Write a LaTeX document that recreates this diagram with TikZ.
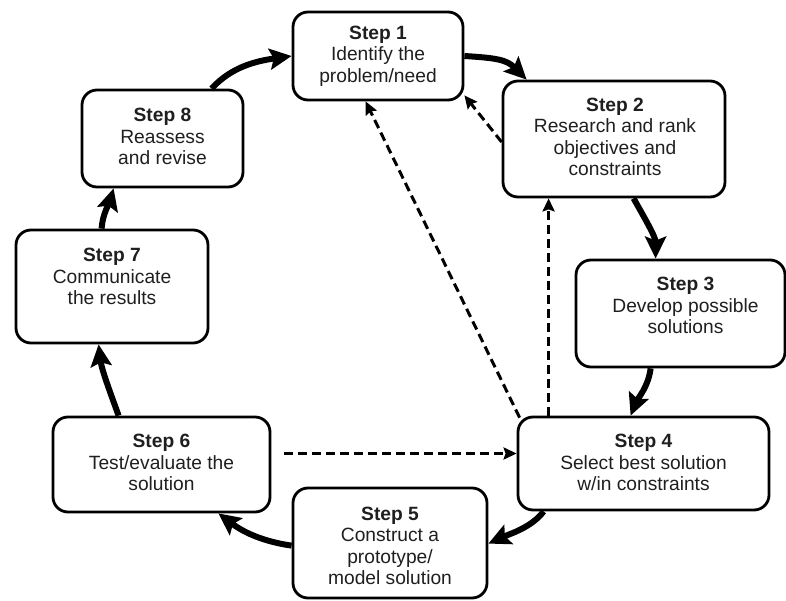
\documentclass[tikz,border=0pt]{standalone}
\usepackage{fontspec}
\setmainfont{Liberation Sans}
\usetikzlibrary{arrows.meta,calc}
\begin{document}
\begin{tikzpicture}[x=1pt,y=-1pt,
  stepbox/.style={draw=black, line width=2.8pt, rounded corners=15pt, fill=white, inner sep=0pt},
  steptext/.style={align=center, inner sep=0pt, font=\fontsize{19.2}{21.5}\selectfont, text=black!88},
  flow/.style={line width=6pt, -{Stealth[length=22pt,width=21pt,inset=4pt]}},
  back/.style={line width=3pt, dash pattern=on 9pt off 5pt, -{Stealth[length=13pt,width=12pt,inset=2pt]}}]
\useasboundingbox[fill=white] (0,0) rectangle (786,601);

% boxes
\node[stepbox, minimum width=170pt, minimum height=88pt]  (b1) at (378,56) {};
\node[stepbox, minimum width=222pt, minimum height=116pt] (b2) at (614,139) {};
\node[stepbox, minimum width=209pt, minimum height=107pt] (b3) at (680.5,313.5) {};
\node[stepbox, minimum width=251pt, minimum height=93pt]  (b4) at (643.5,463.5) {};
\node[stepbox, minimum width=194pt, minimum height=110pt] (b5) at (390,543) {};
\node[stepbox, minimum width=217pt, minimum height=95pt]  (b6) at (161.5,464.5) {};
\node[stepbox, minimum width=192pt, minimum height=113pt] (b7) at (112,286.5) {};
\node[stepbox, minimum width=161pt, minimum height=97pt]  (b8) at (162.5,138.5) {};

% texts
\node[steptext] (t1) at (b1.center) {\textbf{Step 1}\\Identify the\\problem/need};
\node[steptext] (t2) at ($(b2.center)+(1,-2)$) {\textbf{Step 2}\\Research and rank\\objectives and\\constraints};
\node[steptext] (t3) at ($(b3.center)+(5,-8)$) {\textbf{Step 3}\\Develop possible\\solutions};
\node[steptext] (t4) at ($(b4.center)+(0,-1)$) {\textbf{Step 4}\\Select best solution\\w/in constraints};
\node[steptext] (t5) at ($(b5.center)+(0,3)$) {\textbf{Step 5}\\Construct a\\prototype/\\model solution};
\node[steptext] (t6) at ($(b6.center)+(0,-2)$) {\textbf{Step 6}\\Test/evaluate the\\solution};
\node[steptext] (t7) at ($(b7.center)+(0,-10)$) {\textbf{Step 7}\\Communicate\\the results};
\node[steptext] (t8) at ($(b8.center)+(0,-2)$) {\textbf{Step 8}\\Reassess\\and revise};

% main cycle
\draw[flow] (b1.east) .. controls +(32,2) and +(-20,-20) .. ($(b2.north west)+(25,0)$);
\draw[flow] ($(b2.south west)+(132,0)$) .. controls +(10,18) and +(0,-22) .. ($(b3.north west)+(81,0)$);
\draw[flow] ($(b3.south west)+(76,0)$) .. controls +(-2,18) and +(6,-15) .. ($(b4.north west)+(114,0)$);
\draw[flow] ($(b4.south west)+(27,0)$) .. controls +(-12,16) and +(22,-10) .. ($(b5.north east)+(0,57)$);
\draw[flow] ($(b5.north west)+(0,59)$) .. controls +(-35,-5) and +(20,15) .. ($(b6.south east)+(-53,0)$);
\draw[flow] ($(b6.north west)+(67,0)$) .. controls +(-8,-22) and +(3,25) .. ($(b7.south west)+(84,0)$);
\draw[flow] ($(b7.north west)+(87,0)$) .. controls +(1,-15) and +(-4,14) .. ($(b8.south west)+(33,0)$);
\draw[flow] ($(b8.north west)+(131,0)$) .. controls +(20,-22) and +(-35,5) .. (b1.west);

% feedback
\draw[back] ($(b4.north west)+(3,2)$) -- ($(b1.south west)+(74,0)$);
\draw[back] ($(b4.north west)+(32,0)$) -- ($(b2.south west)+(47,0)$);
\draw[back] ($(b2.west)+(0,3)$) -- ($(b1.south east)+(0,-6)$);
\draw[back] ($(b6.east)+(13,-11)$) -- ($(b4.west)+(0,-10)$);
\end{tikzpicture}
\end{document}
